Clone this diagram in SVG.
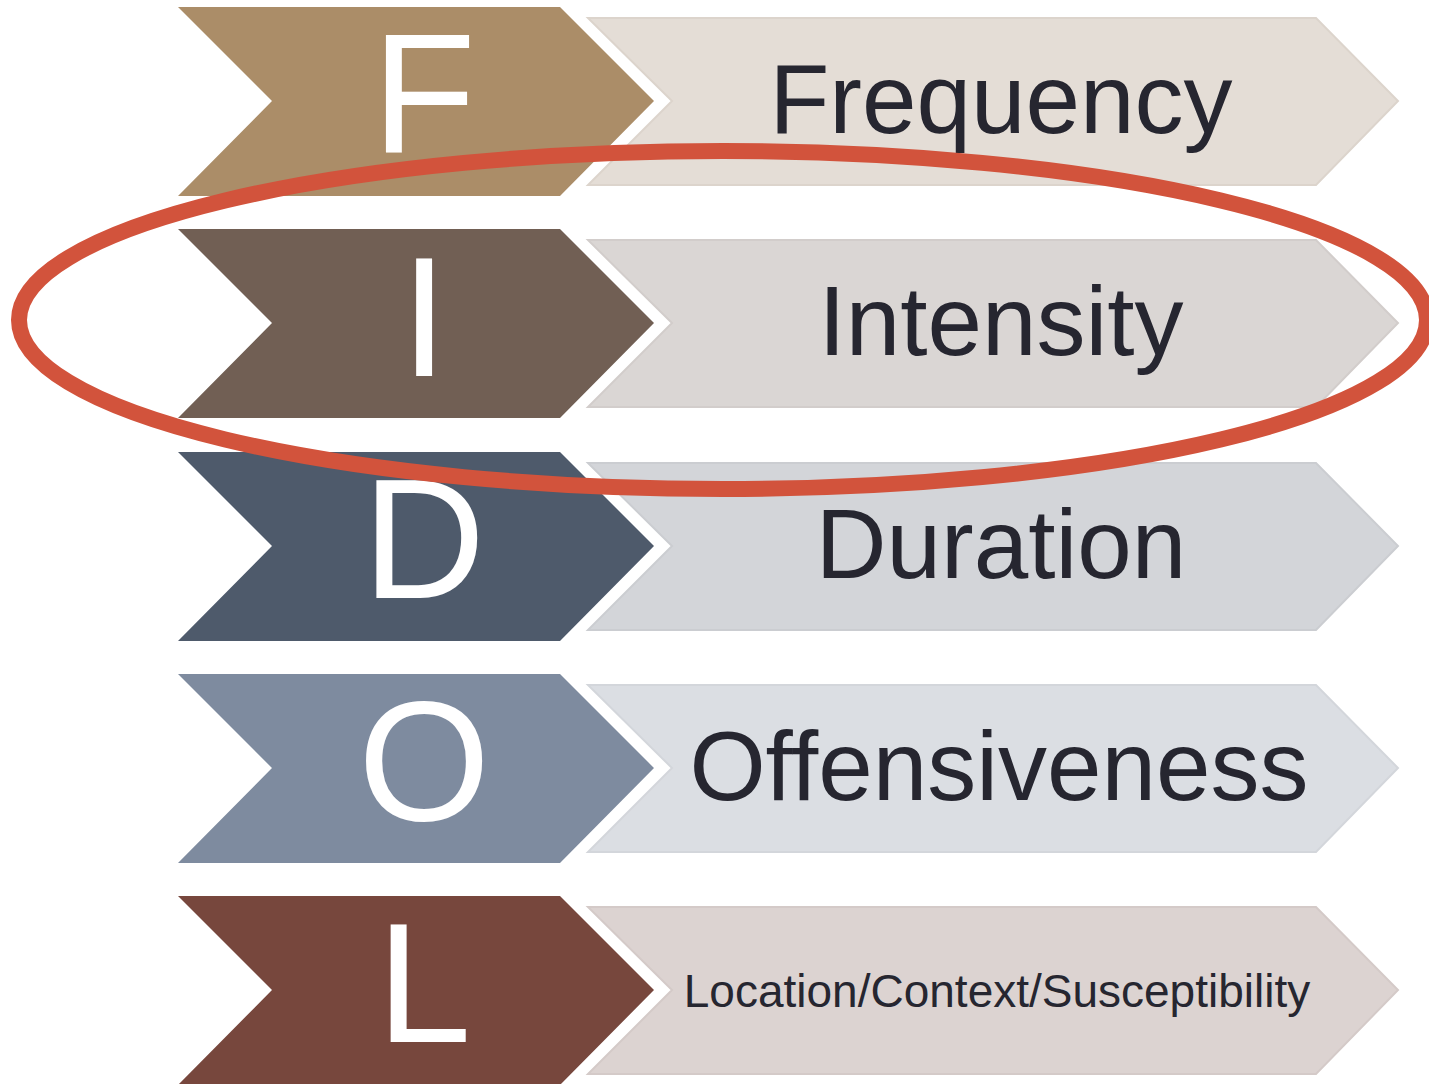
<svg xmlns="http://www.w3.org/2000/svg" width="1429" height="1084" viewBox="0 0 1429 1084">
<defs>
<style>
.chev{stroke:none}
.band{stroke-width:2}
.letter{font-family:"Liberation Sans",Arial,sans-serif;font-size:170px;fill:#ffffff;text-anchor:middle}
.label{font-family:"Liberation Sans",Arial,sans-serif;font-size:98px;fill:#262630;text-anchor:middle}
.small{font-size:46px}
</style>
<path id="chevL" d="M178,0 L560,0 L654,94 L560,189 L178,189 L272,94 Z"/>
<path id="chevR" d="M588,0 L1316,0 L1398,83 L1316,167 L588,167 L672,83 Z"/>
</defs>
<rect width="1429" height="1084" fill="#ffffff"/>
<g id="row-F">
<use href="#chevL" y="7" fill="#AB8D68"/>
<use href="#chevR" class="band" y="18" fill="#E4DDD6" stroke="#DCD4CC"/>
<text class="letter" x="424" y="153">F</text>
<text class="label" x="1001" y="133">Frequency</text>
</g>
<g id="row-I">
<use href="#chevL" y="229" fill="#715F54"/>
<use href="#chevR" class="band" y="240" fill="#DAD6D4" stroke="#D2CDCB"/>
<text class="letter" x="424" y="376">I</text>
<text class="label" x="1001" y="355">Intensity</text>
</g>
<g id="row-D">
<use href="#chevL" y="452" fill="#4E5A6B"/>
<use href="#chevR" class="band" y="463" fill="#D3D5D9" stroke="#CBCDD1"/>
<text class="letter" x="424" y="598">D</text>
<text class="label" x="1001" y="578">Duration</text>
</g>
<g id="row-O">
<use href="#chevL" y="674" fill="#7E8B9F"/>
<use href="#chevR" class="band" y="685" fill="#DBDEE3" stroke="#D3D6DB"/>
<text class="letter" x="424" y="820">O</text>
<text class="label" x="999" y="800">Offensiveness</text>
</g>
<g id="row-L">
<use href="#chevL" y="896" fill="#77473D"/>
<use href="#chevR" class="band" y="907" fill="#DCD3D1" stroke="#D4CAC8"/>
<text class="letter" x="424" y="1042">L</text>
<text class="label small" x="997" y="1007">Location/Context/Susceptibility</text>
</g>
<g id="connectors">
<ellipse id="highlight" cx="723" cy="320" rx="704" ry="169" fill="none" stroke="#D2533C" stroke-width="16"/>
</g>
</svg>
